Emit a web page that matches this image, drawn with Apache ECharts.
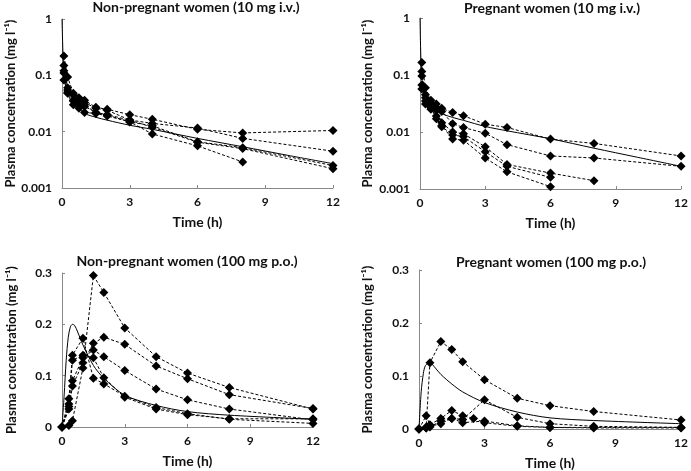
<!DOCTYPE html>
<html><head><meta charset="utf-8">
<script src="https://cdn.jsdelivr.net/npm/echarts@6/dist/echarts.min.js"></script>
<style>html,body{margin:0;padding:0;background:#fff}#c{width:691px;height:471px}</style>
</head><body><div id="c"></div>
<script>
// ---------- data ----------
const titles = ["Non-pregnant women (10 mg i.v.)","Pregnant women (10 mg i.v.)","Non-pregnant women (100 mg p.o.)","Pregnant women (100 mg p.o.)"];
const xTicks = [0,3,6,9,12];
const logTicks = ["1","0.1","0.01","0.001"];
const linTicks = ["0","0.1","0.2","0.3"];

// Panel 1: non-pregnant i.v.
const ivTimes = [0.083,0.25,0.5,0.75,1,1.5,2,3,4,6,8,12];
const npIV1 = [0.22,0.093,0.048,0.040,0.036,0.027,0.025,0.020,0.0166,0.011,0.0095,0.0105];
const npIV2 = [0.15,0.060,0.045,0.037,0.033,0.026,0.024,0.0161,0.014,0.0116,0.0076,0.0045];
const npIV3 = [0.12,0.055,0.036,0.032,0.030,0.0216,0.0197,0.0149,0.0127,0.0066,0.0052,0.0025];
const npIV4 = [0.083,0.048,0.030,0.026,0.022,0.021,0.019,0.015,0.0091,0.0056,0.0029,null];
const npIV5 = [0.11,0.050,0.035,0.030,0.028,0.022,0.020,0.016,0.012,0.0065,0.0050,0.0022];
const npIVFitT = [0,0.02,0.05,0.1,0.2,0.3,0.5,0.75,1,1.5,2,3,4,6,8,10,12];
const npIVFit = [1.0,0.5,0.2,0.09,0.055,0.042,0.031,0.025,0.021,0.018,0.016,0.013,0.011,0.0076,0.0054,0.0038,0.0027];

// Panel 2: pregnant i.v.
const pIV1 = [0.165,0.060,0.036,0.031,0.026,0.022,0.0193,0.0137,0.012,0.0075,0.0063,0.0038];
const pIV2 = [0.115,0.045,0.032,0.027,0.023,0.014,0.012,0.0095,0.006,0.0038,0.0035,0.0025];
const pIV3 = [0.096,0.031,0.029,0.024,0.0146,0.010,0.0093,0.0055,0.0027,0.0019,0.0014,null];
const pIV4 = [0.067,0.040,0.025,0.019,0.0124,0.0089,0.0083,0.0045,0.0025,0.0016,null,null];
const pIV5 = [0.057,0.035,0.027,0.017,0.013,0.0075,0.0072,0.0035,0.0020,0.0011,null,null];
const pIVFitT = [0,0.02,0.05,0.1,0.2,0.3,0.5,0.75,1,1.5,2,3,4,6,8,10,12];
const pIVFit = [1.0,0.4,0.15,0.08,0.05,0.038,0.029,0.024,0.021,0.018,0.016,0.0125,0.0105,0.0076,0.0052,0.0036,0.0025];

// Panel 3: non-pregnant p.o.
const poTimes = [0,0.33,0.5,1,1.5,2,3,4.5,6,8,12];
const npPO1 = [0,0.003,0.012,0.115,0.295,0.262,0.193,0.137,0.105,0.077,0.035];
const npPO2 = [0,0.035,0.080,0.125,0.163,0.175,0.161,0.119,0.094,0.063,0.036];
const npPO3 = [0,0.040,0.090,0.135,0.150,0.137,0.110,0.074,0.053,0.035,0.014];
const npPO4 = [0,0.055,0.140,0.173,0.095,0.084,0.060,0.038,0.026,0.015,0.007];
const npPO5 = [0,0.045,0.130,0.140,0.135,0.096,0.058,0.035,0.024,0.016,0.016];
const npPOFitT = [0,0.1,0.2,0.3,0.4,0.5,0.6,0.75,1,1.5,2,3,4.5,6,8,12];
const npPOFit = [0,0.06,0.13,0.175,0.195,0.200,0.198,0.185,0.160,0.120,0.095,0.062,0.042,0.030,0.023,0.015];

// Panel 4: pregnant p.o.
const pPOTimes = [0,0.33,0.5,1,1.5,2,2.5,3,4.5,6,8,12];
const pPO1 = [0,0.004,0.125,0.165,0.150,0.127,null,0.093,0.058,0.044,0.033,0.017];
const pPO2 = [0,0.025,0.008,0.020,0.035,0.025,0.020,0.012,0.005,0.003,0.003,0.003];
const pPO3 = [0,0.002,0.005,0.010,0.020,0.018,null,0.055,0.022,0.010,0.005,0.003];
const pPO4 = [0,0.002,0.004,0.015,0.020,0.012,null,0.015,0.006,0.003,0.002,0.002];
const pPOFitT = [0,0.1,0.2,0.3,0.5,0.75,1,1.5,2,3,4.5,6,8,12];
const pPOFit = [0,0.07,0.105,0.12,0.125,0.115,0.103,0.085,0.070,0.050,0.032,0.021,0.016,0.010];

// ---------- build ----------
const FONT = "Lato";
const yName = "Plasma concentration (mg l\u207B\u00B9)";
const grids = [
  {left:62, top:19, width:271, height:169},
  {left:420, top:18, width:265, height:171},
  {left:62, top:273, width:251, height:154},
  {left:419, top:270, width:264, height:164}
];
const titlePos = [[196,0],[552,1],[187,254],[551,255]];
const nameGaps = [42,46,44,45];

function pairs(t, v){ const out=[]; for(let i=0;i<t.length;i++){ if(v[i]!==null && v[i]!==undefined) out.push([t[i],v[i]]); } return out; }

const axisLine = {show:true, lineStyle:{color:'#888', width:1}};
const xAxes = grids.map((g,i)=>({
  type:'value', gridIndex:i, min:0, max:12, interval:3,
  axisLine:{...axisLine, onZero:false}, axisTick:{show:true, inside:true, length:3, lineStyle:{color:'#888'}},
  splitLine:{show:false},
  axisLabel:{fontFamily:FONT, fontWeight:'bold', fontSize:12, color:'#111', margin:8},
  name:'Time (h)', nameLocation:'middle', nameGap:27,
  nameTextStyle:{fontFamily:FONT, fontWeight:'bold', fontSize:14, color:'#111'}
}));
const yAxes = grids.map((g,i)=>{
  const base = {
    gridIndex:i, axisLine:axisLine,
    axisTick:{show:true, inside:true, length:3, lineStyle:{color:'#888'}},
    splitLine:{show:false},
    name:yName, nameLocation:'middle', nameGap:nameGaps[i], nameRotate:90,
    nameTextStyle:{fontFamily:FONT, fontWeight:'bold', fontSize:13, color:'#111'},
  };
  if(i<2){
    return {...base, type:'log', logBase:10, min:0.001, max:1,
      axisLabel:{fontFamily:FONT, fontWeight:'bold', fontSize:12, color:'#111', margin:10,
        formatter:(v)=>{ const k=Math.round(-Math.log10(v)); return logTicks[k]; }}};
  }
  return {...base, type:'value', min:0, max:0.3, interval:0.1,
    axisLabel:{fontFamily:FONT, fontWeight:'bold', fontSize:12, color:'#111', margin:10,
      formatter:(v)=> linTicks[Math.round(v*10)]}};
});

const series = [];
function addSubj(idx, t, v){
  series.push({type:'line', xAxisIndex:idx, yAxisIndex:idx, data:pairs(t,v),
    symbol:'diamond', symbolSize:9, itemStyle:{color:'#000'},
    lineStyle:{color:'#000', width:1, type:[3,2]}, connectNulls:true, animation:false, z:3});
}
function addFit(idx, t, v){
  series.push({type:'line', xAxisIndex:idx, yAxisIndex:idx, data:pairs(t,v),
    symbol:'none', smooth:0.3, lineStyle:{color:'#000', width:1}, animation:false, z:2});
}
[npIV1,npIV2,npIV3,npIV4,npIV5].forEach(v=>addSubj(0, ivTimes, v));
addFit(0, npIVFitT, npIVFit);
[pIV1,pIV2,pIV3,pIV4,pIV5].forEach(v=>addSubj(1, ivTimes, v));
addFit(1, pIVFitT, pIVFit);
[npPO1,npPO2,npPO3,npPO4,npPO5].forEach(v=>addSubj(2, poTimes, v));
addFit(2, npPOFitT, npPOFit);
[pPO1,pPO2,pPO3,pPO4].forEach(v=>addSubj(3, pPOTimes, v));
addFit(3, pPOFitT, pPOFit);

const chart = echarts.init(document.getElementById('c'), null, {renderer:'canvas'});
chart.setOption({
  backgroundColor:'#fff',
  animation:false,
  title: titles.map((t,i)=>({text:t, left:titlePos[i][0], top:titlePos[i][1], textAlign:'center', padding:0,
    textStyle:{fontFamily:FONT, fontWeight:'bold', fontSize:14, color:'#111'}})),
  grid: grids.map(g=>({...g, containLabel:false})),
  xAxis: xAxes, yAxis: yAxes, series: series
});
</script></body></html>
